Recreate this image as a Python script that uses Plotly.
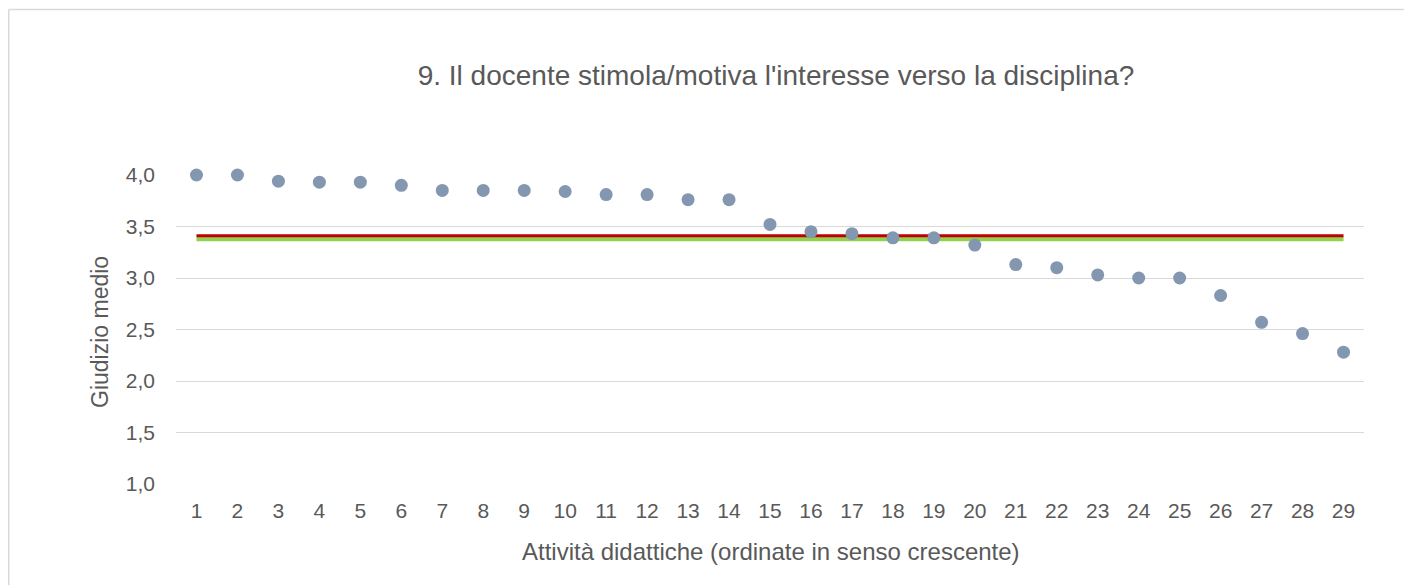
import plotly.graph_objects as go

categories = list(range(1, 30))
giudizio = [4.00, 4.00, 3.94, 3.93, 3.93, 3.90, 3.85, 3.85, 3.85, 3.84,
            3.81, 3.81, 3.76, 3.76, 3.52, 3.45, 3.43, 3.39, 3.39, 3.32,
            3.13, 3.10, 3.03, 3.00, 3.00, 2.83, 2.57, 2.46, 2.28]
media_rossa = [3.41] * len(categories)
media_verde = [3.38] * len(categories)
y_ticks = [1.0, 1.5, 2.0, 2.5, 3.0, 3.5, 4.0]

OFF = 8  # page body margin
W, H = 1412 - OFF, 585 - OFF
# plot area in page pixels: left 176, right 1364, top 175, bottom 484
L = 176 - OFF
R = W - (1364 - OFF)
T = 175 - OFF
B = H - (484 - OFF)
pw, ph = W - L - R, H - T - B

def fx(page_px):
    return (page_px - OFF - L) / pw

def fy(page_py):
    return (H - B - (page_py - OFF)) / ph

GREY = "#595959"
BORDER = "#d9d9d9"

fig = go.Figure()
fig.add_trace(go.Scatter(x=categories, y=media_verde, mode="lines",
                         line=dict(color="#92d050", width=5), hoverinfo="skip", showlegend=False))
fig.add_trace(go.Scatter(x=categories, y=media_rossa, mode="lines",
                         line=dict(color="#c00000", width=3), hoverinfo="skip", showlegend=False))
fig.add_trace(go.Scatter(x=categories, y=giudizio, mode="markers",
                         marker=dict(color="#8497b0", size=13), cliponaxis=False, showlegend=False))

fig.update_layout(
    width=W, height=H,
    margin=dict(l=L, r=R, t=T, b=B),
    paper_bgcolor="white", plot_bgcolor="white",
    separators=",.",
    font=dict(family="Liberation Sans, Arial, sans-serif", color=GREY, size=21),
    title=dict(text="9. Il docente stimola/motiva l'interesse verso la disciplina?",
               x=fx(776), xref="paper", xanchor="center",
               y=1 - (75 - OFF) / H, yref="container", yanchor="middle",
               font=dict(size=28, color=GREY)),
    xaxis=dict(range=[0.5, 29.5], tickmode="array", tickvals=categories,
               ticktext=[str(c) for c in categories], showgrid=False, zeroline=False,
               showline=False, ticks="", ticklabelstandoff=12,
               tickfont=dict(size=21, color=GREY)),
    yaxis=dict(range=[1.0, 4.0], tickmode="array", tickvals=y_ticks, tickformat=".1f",
               showgrid=True, gridcolor="#d9d9d9", gridwidth=1.3, zeroline=False,
               showline=False, ticks="", ticklabelstandoff=20,
               tickfont=dict(size=21, color=GREY)),
    annotations=[
        dict(text="Attività didattiche (ordinate in senso crescente)", xref="paper", yref="paper",
             x=fx(771), y=fy(551), xanchor="center", yanchor="middle", showarrow=False,
             font=dict(size=24, color=GREY)),
        dict(text="Giudizio medio", xref="paper", yref="paper", textangle=-90,
             x=fx(100), y=fy(332), xanchor="center", yanchor="middle", showarrow=False,
             font=dict(size=23, color=GREY)),
    ],
    shapes=[
        dict(type="line", xref="paper", yref="paper",
             x0=fx(8.75), x1=fx(1412 + 20), y0=fy(9.5), y1=fy(9.5),
             line=dict(color=BORDER, width=1.5), layer="below"),
        dict(type="line", xref="paper", yref="paper",
             x0=fx(8.75), x1=fx(8.75), y0=fy(9.5), y1=fy(585 + 20),
             line=dict(color=BORDER, width=1.5), layer="below"),
    ],
)

fig.write_html("out.html")
